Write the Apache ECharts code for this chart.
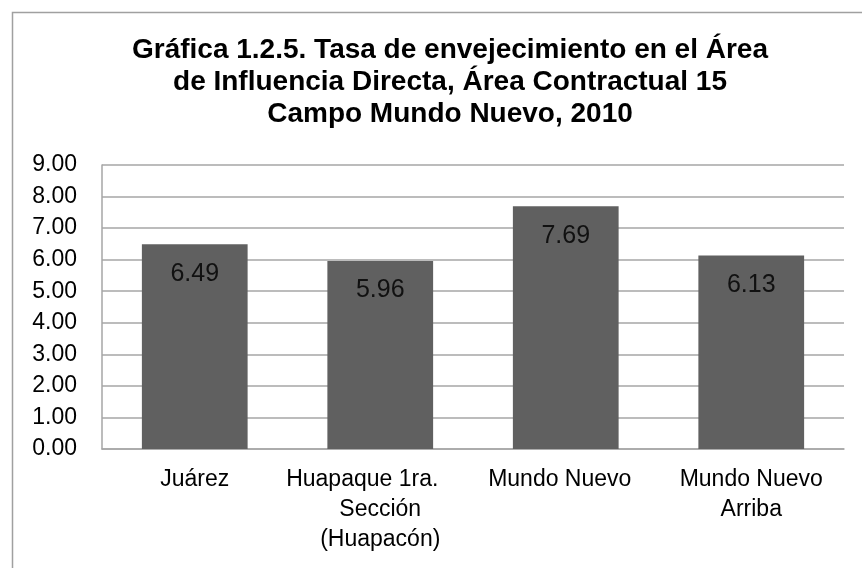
<!DOCTYPE html>
<html>
<head>
<meta charset="utf-8">
<script src="https://cdn.jsdelivr.net/npm/echarts@6/dist/echarts.min.js"></script>
<style>
html,body{margin:0;padding:0;background:#fff;}
#chart{width:862px;height:568px;}
</style>
</head>
<body>
<div id="chart"></div>
<script>
const titleText = "Gráfica 1.2.5. Tasa de envejecimiento en el Área\nde Influencia Directa, Área Contractual 15\nCampo Mundo Nuevo, 2010";
const categories = ["Juárez", "Huapaque 1ra.\nSección\n(Huapacón)", "Mundo Nuevo", "Mundo Nuevo\nArriba"];
const values = [6.49, 5.96, 7.69, 6.13];
const yMin = 0, yMax = 9, yStep = 1;

const labelFont = {fontFamily: '"Liberation Sans", Arial', fontSize: 23, color: '#000', lineHeight: 30};
// first-line right padding per category, to mimic wrapped label alignment
const firstLinePad = [0, 36, 12, 0];

const chart = echarts.init(document.getElementById('chart'), null, {renderer: 'canvas'});
chart.setOption({
  animation: false,
  backgroundColor: '#fff',
  graphic: [{
    type: 'rect', left: 10, top: 10, silent: true,
    shape: {width: 900, height: 600},
    style: {fill: 'none', stroke: '#a0a0a0', lineWidth: 1.5}
  }, {
    type: 'text', x: 450, y: 34, silent: true,
    style: {
      text: titleText, textAlign: 'center', textVerticalAlign: 'top',
      fontFamily: '"Liberation Sans", Arial', fontWeight: 'bold', fontSize: 28, lineHeight: 32, fill: '#000'
    }
  }],
  grid: {left: 102, right: 18, top: 165, bottom: 119, containLabel: false},
  xAxis: {
    type: 'category', data: categories,
    axisLine: {show: true, lineStyle: {color: '#a6a6a6', width: 1.5}},
    axisTick: {show: false},
    axisLabel: Object.assign({}, labelFont, {
      margin: 16, interval: 0,
      formatter: (v, i) => {
        const lines = v.split('\n');
        return lines.map((l, k) => (k === 0 ? '{f' + i + '|' + l + '}' : '{n|' + l + '}')).join('\n');
      },
      rich: {
        n: Object.assign({}, labelFont),
        f0: Object.assign({}, labelFont, {padding: [0, firstLinePad[0], 0, 0]}),
        f1: Object.assign({}, labelFont, {padding: [0, firstLinePad[1], 0, 0]}),
        f2: Object.assign({}, labelFont, {padding: [0, firstLinePad[2], 0, 0]}),
        f3: Object.assign({}, labelFont, {padding: [0, firstLinePad[3], 0, 0]})
      }
    })
  },
  yAxis: {
    type: 'value', min: yMin, max: yMax, interval: yStep,
    axisLine: {show: true, lineStyle: {color: '#a6a6a6', width: 1.5}},
    axisTick: {show: false},
    splitLine: {lineStyle: {color: '#a6a6a6', width: 1.5}},
    axisLabel: {fontFamily: '"Liberation Sans", Arial', fontSize: 23, color: '#000', margin: 25, formatter: v => v.toFixed(2)}
  },
  series: [{
    type: 'bar', data: values, barWidth: '57%',
    itemStyle: {color: '#606060'},
    label: {show: true, position: 'insideTop', distance: 17, fontFamily: '"Liberation Sans", Arial', fontSize: 25, color: '#111', formatter: p => p.value.toFixed(2)}
  }]
});
</script>
</body>
</html>
